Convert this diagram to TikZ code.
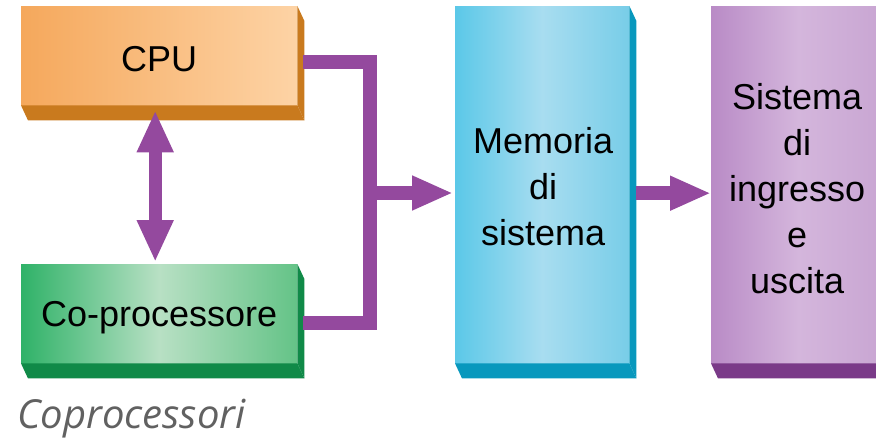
\documentclass[tikz,border=0pt]{standalone}
\usepackage{fontspec}
\setmainfont{Liberation Sans}
\newfontfamily\capfont{Open Sans}
\usetikzlibrary{arrows.meta,calc}
\definecolor{busc}{RGB}{148,73,158}
\definecolor{cpuL}{RGB}{245,168,92}
\definecolor{cpuR}{RGB}{253,211,165}
\definecolor{cpuD}{RGB}{201,122,30}
\definecolor{copL}{RGB}{47,178,104}
\definecolor{copM}{RGB}{184,224,196}
\definecolor{copR}{RGB}{100,195,135}
\definecolor{copD}{RGB}{16,138,72}
\definecolor{memL}{RGB}{91,200,232}
\definecolor{memM}{RGB}{168,221,240}
\definecolor{memR}{RGB}{120,205,232}
\definecolor{memD}{RGB}{8,152,189}
\definecolor{sisL}{RGB}{185,139,198}
\definecolor{sisM}{RGB}{212,182,220}
\definecolor{sisR}{RGB}{200,165,210}
\definecolor{sisD}{RGB}{122,58,136}
\tikzset{
  blk/.style={draw=none, inner sep=0pt, anchor=north west},
  lbl/.style={inner sep=0pt, align=center, font=\fontsize{36}{46}\selectfont, text=black},
  bus/.style={draw=busc, line width=14pt, line join=miter},
  bigtip/.style={-{Triangle[length=41pt,width=32pt]}},
  dbltip/.style={{Triangle[length=42pt,width=34pt]}-{Triangle[length=42pt,width=34pt]}}
}
\newcommand{\extrude}[2]{%
  \fill[#2] (#1.south west) -- (#1.south east) -- ++(7,15) -- ($(#1.south west)+(7,15)$) -- cycle;
  \fill[#2] (#1.north east) -- ++(7,15) -- ($(#1.south east)+(7,15)$) -- (#1.south east) -- cycle;
}
\begin{document}
\begin{tikzpicture}[x=1pt,y=-1pt]
\useasboundingbox (0,0) rectangle (876,441);
\clip (0,0) rectangle (876,441);
\node[blk, minimum width=276pt, minimum height=99pt, left color=cpuL, right color=cpuR] (cpu) at (21,6) {};
\node[blk, minimum width=276pt, minimum height=99pt, left color=copL, right color=copR, middle color=copM] (cop) at (21,264) {};
\node[blk, minimum width=174pt, minimum height=357pt, left color=memL, right color=memR, middle color=memM] (mem) at (455,6) {};
\node[blk, minimum width=174pt, minimum height=357pt, left color=sisL, right color=sisR, middle color=sisM] (sis) at (711,6) {};
\extrude{cpu}{cpuD}
\extrude{cop}{copD}
\extrude{mem}{memD}
\extrude{sis}{sisD}
\node[lbl] (cpuT) at ([shift={(0,3)}]cpu.center) {CPU};
\node[lbl] (copT) at ([shift={(0,4)}]cop.center) {Co-processore};
\node[lbl] (memT) at ([shift={(1,2)}]mem.center) {Memoria\\di\\sistema};
\node[lbl] (sisT) at ([shift={(-1,4)}]sis.center) {Sistema\\di\\ingresso\\e\\uscita};
\coordinate (bj) at (370,193);
\draw[bus] ([shift={(6,6)}]cpu.east) -| (bj) |- ([shift={(6,9)}]cop.east);
\draw[bus, bigtip] ([shift={(-7,0)}]bj) -- ([shift={(-2,0)}]bj -| mem.west);
\draw[bus, bigtip] ([shift={(7,8.5)}]mem.east) -- ([shift={(0,8.5)}]sis.west);
\draw[draw=busc, line width=13pt, dbltip] ([shift={(-4,5)}]cpu.south) -- ([shift={(-4,-2)}]cop.north);
\node[anchor=base west, inner sep=0pt, font=\capfont\itshape\fontsize{40}{44}\selectfont, text=black!62] (cap) at (17,428) {Coprocessori};
\end{tikzpicture}
\end{document}
